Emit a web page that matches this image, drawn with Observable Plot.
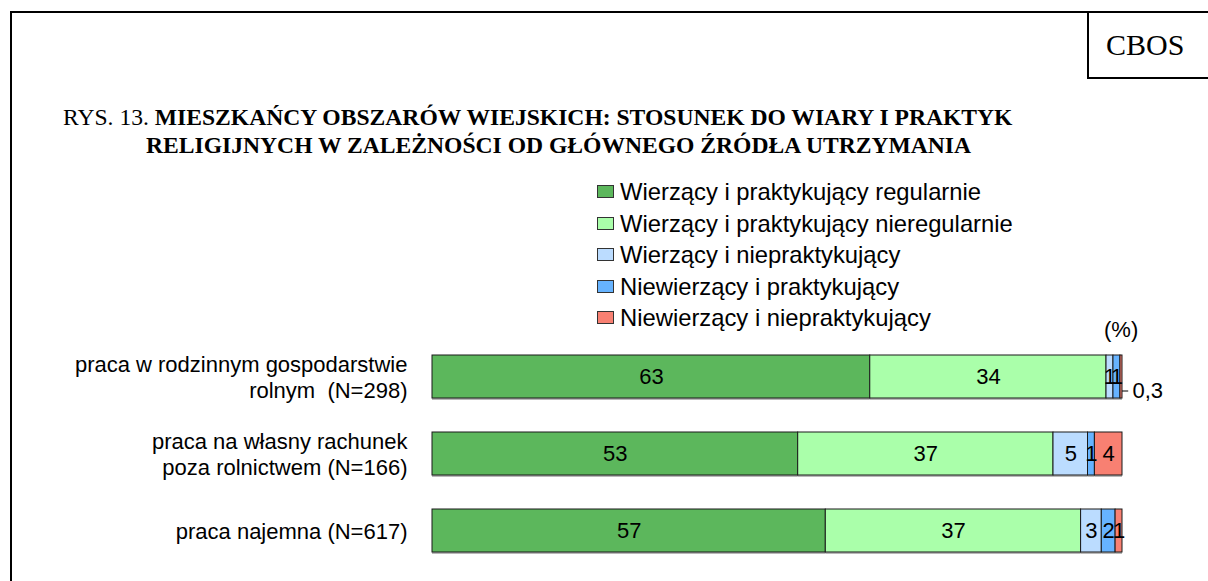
<!DOCTYPE html>
<html><head><meta charset="utf-8">
<script src="https://cdn.jsdelivr.net/npm/d3@7"></script>
<script src="https://cdn.jsdelivr.net/npm/@observablehq/plot@0.6"></script>
<style>
html,body{margin:0;padding:0;background:#fff;}
#page{position:relative;width:1208px;height:581px;overflow:hidden;font-family:"Liberation Sans",Arial,sans-serif;color:#000;}
#frame{position:absolute;left:10px;top:11px;width:1400px;height:800px;border-left:2px solid #000;border-top:2px solid #000;}
#cbos{position:absolute;left:1087px;top:11px;width:200px;height:64px;border-left:2px solid #000;border-bottom:2px solid #000;border-top:2px solid #000;box-sizing:content-box;font-family:"Liberation Serif","Times New Roman",serif;font-size:30px;line-height:64px;padding-left:17px;}
.title{position:absolute;font-family:"Liberation Serif","Times New Roman",serif;font-size:23.6px;line-height:28px;white-space:nowrap;}
#legend{position:absolute;left:597px;top:176px;font-size:23.8px;}
.row{height:31.5px;line-height:31.5px;white-space:nowrap;display:flex;align-items:center;}
.sw{display:inline-block;width:15px;height:11px;border:1px solid #333;margin-right:6px;}
#pct{position:absolute;left:1104px;top:317px;font-size:22px;line-height:26px;}
#chart{position:absolute;left:0;top:0;}
</style>
</head><body>
<div id="page">
  <div id="chart"></div>
  <div id="frame"></div>
  <div id="cbos">CBOS</div>
  <div class="title" style="left:63px;top:103px;">RYS. 13. <b>MIESZKAŃCY OBSZARÓW WIEJSKICH: STOSUNEK DO WIARY I PRAKTYK</b></div>
  <div class="title" style="left:146px;top:131px;"><b>RELIGIJNYCH W ZALEŻNOŚCI OD GŁÓWNEGO ŹRÓDŁA UTRZYMANIA</b></div>
  <div id="legend"></div>
  <div id="pct">(%)</div>
</div>
<script>
const categories = [
  "praca w rodzinnym gospodarstwie\nrolnym \u00a0(N=298)",
  "praca na własny rachunek\npoza rolnictwem (N=166)",
  "praca najemna (N=617)"
];
const series = [
  "Wierzący i praktykujący regularnie",
  "Wierzący i praktykujący nieregularnie",
  "Wierzący i niepraktykujący",
  "Niewierzący i praktykujący",
  "Niewierzący i niepraktykujący"
];
const colors = ["#5cb75c", "#aaffaa", "#bbdcff", "#66b3ff", "#f88072"];
const values1 = [63, 34, 1, 1, 0.3];
const values2 = [53, 37, 5, 1, 4];
const values3 = [57, 37, 3, 2, 1];
const allValues = [values1, values2, values3];

const data = [];
categories.forEach((c, i) => series.forEach((s, j) => data.push({cat: c, series: s, value: allValues[i][j]})));
const small = data.filter(d => d.value < 1);

// legend
const legend = document.getElementById("legend");
series.forEach((s, j) => {
  const row = document.createElement("div");
  row.className = "row";
  const sw = document.createElement("span");
  sw.className = "sw";
  sw.style.background = colors[j];
  row.appendChild(sw);
  row.appendChild(document.createTextNode(s));
  legend.appendChild(row);
});

const chart = Plot.plot({
  width: 1208, height: 581,
  marginLeft: 432, marginRight: 86, marginTop: 347, marginBottom: 21,
  style: {background: "transparent", fontFamily: "Liberation Sans, Arial, sans-serif", fontSize: "22px", overflow: "visible", color: "#000"},
  x: {domain: [0, 1], axis: null},
  y: {domain: categories, paddingInner: 0.44, paddingOuter: 0.1},
  color: {domain: series, range: colors},
  marks: [
    Plot.barX(data, Plot.stackX({x: "value", y: "cat", offset: "normalize", fill: "#b8b8b8", dy: 2})),
    Plot.barX(data, Plot.stackX({x: "value", y: "cat", offset: "normalize", fill: "series", stroke: "#1a1a1a", strokeWidth: 1})),
    Plot.text(data, Plot.stackX({x: "value", y: "cat", offset: "normalize", text: d => d.value >= 1 ? String(d.value) : "", fontSize: 22, fill: "#000"})),
    Plot.ruleY(small, {y: "cat", x1: 1, x2: 1.009, dy: 14, stroke: "#000", strokeWidth: 1}),
    Plot.text(small, {y: "cat", x: 1, dx: 10, dy: 14, text: d => String(d.value).replace(".", ","), textAnchor: "start", fontSize: 22, fill: "#000"}),
    Plot.axisY({tickSize: 0, tickPadding: 25, fontSize: 22, lineHeight: 1.15, label: null, fill: "#000"})
  ]
});
document.getElementById("chart").appendChild(chart);
</script>
</body></html>
